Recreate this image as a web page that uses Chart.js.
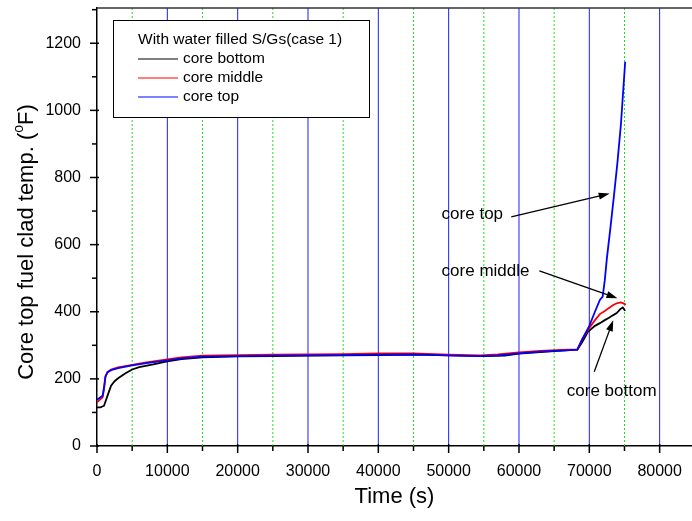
<!DOCTYPE html>
<html>
<head>
<meta charset="utf-8">
<script src="https://cdn.jsdelivr.net/npm/chart.js@4.4.1/dist/chart.umd.min.js"></script>
<style>
html, body { margin: 0; padding: 0; background: #fff; }
#wrap { width: 692px; height: 521px; }
</style>
</head>
<body>
<div id="wrap"><canvas id="c"></canvas></div>
<script>
// Core top fuel clad temperature, case 1 (water filled S/Gs).
const FONT = '"Liberation Sans", Arial, sans-serif';

const timeBottom = [0, 500, 1000, 1500, 2000, 2500, 3000, 4000, 5000, 6000, 8000, 10000, 12000, 15000, 20000, 25000, 30000, 35000, 40000, 45000, 50000, 55000, 58000, 60000, 63000, 66000, 68300, 69000, 69800, 70800, 71500, 72200, 72800, 73400, 73900, 74400, 74750, 75100];
const tempBottom = [115, 115, 120, 150, 180, 193, 202, 216, 228, 235, 243, 252, 259, 264, 267, 268, 269, 270, 271, 272, 270, 268, 269, 275, 280, 284, 287, 310, 340, 358, 366, 375, 382, 390, 396, 408, 413, 403];

const timeMiddle = [0, 300, 800, 1000, 1200, 1500, 2000, 3000, 4000, 5000, 7000, 10000, 12000, 15000, 20000, 25000, 30000, 35000, 40000, 45000, 50000, 54500, 57000, 60000, 63000, 66000, 68300, 69000, 70000, 70800, 71500, 72200, 72700, 73400, 74000, 74500, 74850, 75200];
const tempMiddle = [130, 136, 145, 170, 205, 220, 228, 234, 238, 242, 249, 258, 264, 269, 271, 272, 273, 274, 276, 276, 272, 270, 273, 279, 283, 286, 288, 318, 352, 375, 393, 402, 410, 420, 426, 428, 425, 421];

const timeTop = [0, 300, 800, 1000, 1200, 1500, 2000, 3000, 5000, 7000, 10000, 12000, 15000, 20000, 25000, 30000, 35000, 40000, 45000, 50000, 54500, 57000, 60000, 63000, 66000, 68300, 69000, 70000, 70800, 71500, 71900, 72200, 72500, 73000, 73500, 74000, 74500, 75100];
const tempTop = [138, 142, 150, 175, 208, 220, 226, 232, 240, 247, 255, 261, 266, 268, 269, 270, 271, 272, 273, 270, 268, 270, 276, 281, 284, 287, 318, 358, 400, 435, 445, 494, 560, 650, 745, 845, 960, 1145];

const seriesNames = ['core bottom', 'core middle', 'core top'];
const legendTitle = 'With water filled S/Gs(case 1)';

const xMajor = [0, 10000, 20000, 30000, 40000, 50000, 60000, 70000, 80000];
const xMinor = [5000, 15000, 25000, 35000, 45000, 55000, 65000, 75000];
const yMajor = [0, 200, 400, 600, 800, 1000, 1200];
const yMinor = [100, 300, 500, 700, 900, 1100, 1300];

const annoText = ['core top', 'core middle', 'core bottom'];
const annoX = [49000, 49000, 66800];
const annoY = [691, 519, 162];
const arrowFromX = [58900, 62900, 70700];
const arrowFromY = [683, 522, 221];
const arrowToX = [72900, 74000, 73400];
const arrowToY = [752, 440, 375];

const pts = (ts, vs) => ts.map((t, i) => ({ x: t, y: vs[i] }));
// order: higher number is drawn first (underneath), so core top ends up on top
const ds = (label, ts, vs, col, order) => ({ label, order, data: pts(ts, vs), borderColor: col, backgroundColor: col, borderWidth: 1.8, pointRadius: 0, tension: 0, fill: false });

const frame = {
  id: 'frame',
  beforeDatasetsDraw(chart) {
    const { ctx, chartArea: a, scales: { x } } = chart;
    ctx.save();
    ctx.lineWidth = 1;
    ctx.strokeStyle = '#1e1eff';
    xMajor.slice(1).forEach((v) => {
      const px = x.getPixelForValue(v);
      ctx.beginPath(); ctx.moveTo(px, a.top); ctx.lineTo(px, a.bottom); ctx.stroke();
    });
    ctx.strokeStyle = '#22dd22'; ctx.setLineDash([2, 2]);
    xMinor.forEach((v) => {
      const px = x.getPixelForValue(v);
      ctx.beginPath(); ctx.moveTo(px, a.top); ctx.lineTo(px, a.bottom); ctx.stroke();
    });
    ctx.restore();
  },
  afterDraw(chart) {
    const { ctx, chartArea: a, scales: { x, y } } = chart;
    ctx.save();
    // top frame line
    ctx.strokeStyle = '#333'; ctx.lineWidth = 1.5;
    ctx.beginPath(); ctx.moveTo(a.left, a.top); ctx.lineTo(a.right, a.top); ctx.stroke();
    // tick marks
    ctx.strokeStyle = '#000'; ctx.lineWidth = 1.5;
    const tk = (x1, y1, x2, y2) => { ctx.beginPath(); ctx.moveTo(x1, y1); ctx.lineTo(x2, y2); ctx.stroke(); };
    xMajor.forEach((v) => { const p = x.getPixelForValue(v); tk(p, a.bottom - 2, p, a.bottom + 7); });
    xMinor.forEach((v) => { const p = x.getPixelForValue(v); tk(p, a.bottom, p, a.bottom + 5); });
    yMajor.forEach((v) => { const p = y.getPixelForValue(v); tk(a.left - 7, p, a.left + 2, p); });
    yMinor.forEach((v) => { const p = y.getPixelForValue(v); tk(a.left - 5, p, a.left, p); });

    // legend box
    const lx = a.left + 16, ly = a.top + 12;
    ctx.fillStyle = '#fff'; ctx.fillRect(lx, ly, 256, 97);
    ctx.strokeStyle = '#000'; ctx.lineWidth = 1; ctx.strokeRect(lx + 0.5, ly + 0.5, 256, 97);
    ctx.fillStyle = '#000'; ctx.font = '15.5px ' + FONT; ctx.textBaseline = 'middle'; ctx.textAlign = 'left';
    ctx.fillText(legendTitle, lx + 25, ly + 20);
    chart.data.datasets.forEach((d, i) => {
      const ry = ly + 39 + i * 19;
      ctx.strokeStyle = d.borderColor; ctx.lineWidth = 1.2;
      tk(lx + 25, ry, lx + 65, ry);
      ctx.fillStyle = '#000'; ctx.fillText(seriesNames[i], lx + 70, ry);
    });

    // annotations with arrows
    ctx.font = '17px ' + FONT;
    annoText.forEach((t, i) => {
      ctx.fillStyle = '#000';
      ctx.fillText(t, x.getPixelForValue(annoX[i]), y.getPixelForValue(annoY[i]));
      const x1 = x.getPixelForValue(arrowFromX[i]), y1 = y.getPixelForValue(arrowFromY[i]);
      const x2 = x.getPixelForValue(arrowToX[i]), y2 = y.getPixelForValue(arrowToY[i]);
      const ang = Math.atan2(y2 - y1, x2 - x1);
      ctx.strokeStyle = '#000'; ctx.lineWidth = 1.3;
      tk(x1, y1, x2 - 8 * Math.cos(ang), y2 - 8 * Math.sin(ang));
      ctx.beginPath();
      ctx.moveTo(x2, y2);
      ctx.lineTo(x2 - 11 * Math.cos(ang) + 3.5 * Math.sin(ang), y2 - 11 * Math.sin(ang) - 3.5 * Math.cos(ang));
      ctx.lineTo(x2 - 11 * Math.cos(ang) - 3.5 * Math.sin(ang), y2 - 11 * Math.sin(ang) + 3.5 * Math.cos(ang));
      ctx.closePath(); ctx.fill();
    });

    // y axis title with superscript o
    const cy = 242;
    ctx.translate(27, cy); ctx.rotate(-Math.PI / 2);
    ctx.font = '22px ' + FONT;
    const p1 = 'Core top fuel clad temp. (', p3 = 'F)';
    const w1 = ctx.measureText(p1).width, w3 = ctx.measureText(p3).width;
    ctx.font = '14px ' + FONT;
    const w2 = ctx.measureText('o').width;
    let sx = -(w1 + w2 + w3) / 2;
    ctx.font = '22px ' + FONT; ctx.fillText(p1, sx, 0); sx += w1;
    ctx.font = '14px ' + FONT; ctx.fillText('o', sx, -8); sx += w2;
    ctx.font = '22px ' + FONT; ctx.fillText(p3, sx, 0);
    ctx.restore();
  }
};

new Chart(document.getElementById('c'), {
  type: 'line',
  data: {
    datasets: [
      ds(seriesNames[0], timeBottom, tempBottom, '#000000', 3),
      ds(seriesNames[1], timeMiddle, tempMiddle, '#ff0000', 2),
      ds(seriesNames[2], timeTop, tempTop, '#0000ff', 1)
    ]
  },
  options: {
    responsive: true, maintainAspectRatio: false, animation: false, devicePixelRatio: 1,
    layout: { padding: { top: 8, right: 0, left: 0, bottom: 0 } },
    plugins: { legend: { display: false }, tooltip: { enabled: false } },
    scales: {
      x: {
        type: 'linear', min: 0, max: 84600,
        afterBuildTicks: (s) => { s.ticks = xMajor.map((v) => ({ value: v })); },
        afterFit: (s) => { s.height = 75; s.paddingLeft = 0; s.paddingRight = 0; },
        ticks: { color: '#000', font: { family: FONT, size: 16 }, padding: 16, maxRotation: 0, autoSkip: false, callback: (v) => String(v) },
        grid: { display: true, drawOnChartArea: false, drawTicks: false },
        border: { display: true, color: '#000', width: 1.5 },
        title: { display: true, text: 'Time (s)', color: '#000', font: { family: FONT, size: 22 }, padding: { top: 0, bottom: 11 } }
      },
      y: {
        type: 'linear', min: 0, max: 1305,
        afterBuildTicks: (s) => { s.ticks = yMajor.map((v) => ({ value: v })); },
        afterFit: (s) => { s.width = 97; s.paddingTop = 0; s.paddingBottom = 0; },
        ticks: { color: '#000', font: { family: FONT, size: 16 }, padding: 16, callback: (v) => String(v) },
        grid: { display: true, drawOnChartArea: false, drawTicks: false },
        border: { display: true, color: '#000', width: 1.5 }
      }
    }
  },
  plugins: [frame]
});
</script>
</body>
</html>
